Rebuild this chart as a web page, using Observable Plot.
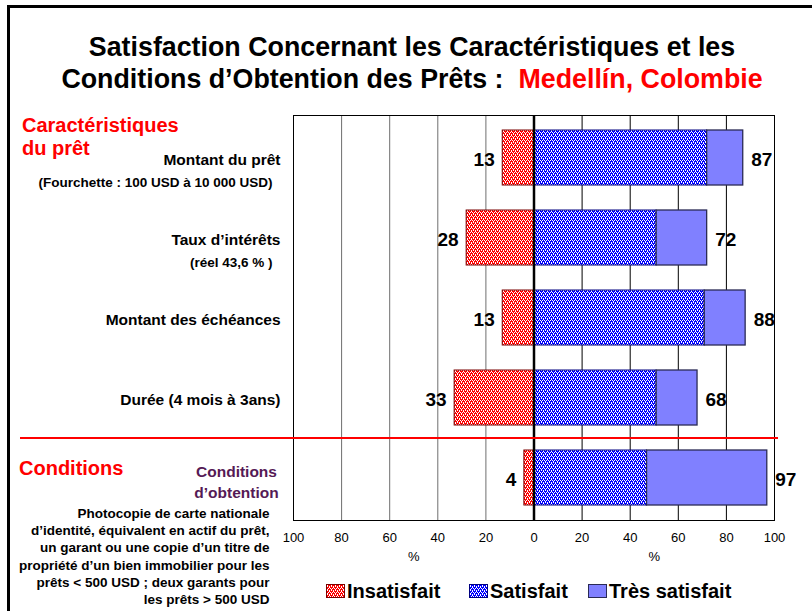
<!DOCTYPE html>
<html lang="fr">
<head>
<meta charset="utf-8">
<script src="https://cdn.jsdelivr.net/npm/d3@7"></script>
<script src="https://cdn.jsdelivr.net/npm/@observablehq/plot@0.6"></script>
<style>
  html, body { margin: 0; padding: 0; background: #fff; }
  #page { position: relative; width: 812px; height: 611px; overflow: hidden; font-family: "Liberation Sans", Arial, sans-serif; background: #fff; }
  .abs { position: absolute; white-space: nowrap; }
  #outer { position: absolute; left: 7px; top: 5px; width: 830px; height: 630px; border-left: 3px solid #000; border-top: 3px solid #000; }
  #title { position: absolute; left: 12px; top: 31px; width: 800px; text-align: center; font-size: 26.8px; font-weight: bold; line-height: 32px; color: #000; white-space: nowrap; }
  #title .red { color: #ff0000; }
  .section { font-size: 20px; font-weight: bold; color: #ff0000; line-height: 23px; }
  #sep { position: absolute; left: 20px; top: 437px; width: 758px; height: 2px; background: #ff0000; }
  .legtxt { font-size: 20px; font-weight: bold; line-height: 20px; }
  #chart { position: absolute; left: 0; top: 0; }
</style>
</head>
<body>
<svg width="0" height="0" style="position:absolute">
  <defs>
    <pattern id="pRed" width="4" height="4" patternUnits="userSpaceOnUse">
      <rect width="4" height="4" fill="#ff0000"/>
      <rect x="0" y="0" width="1" height="1" fill="#ffffff"/>
      <rect x="2" y="0" width="1" height="1" fill="#ffffff"/>
      <rect x="1" y="1" width="1" height="1" fill="#ffffff"/>
      <rect x="1" y="2" width="1" height="1" fill="#ffffff"/>
      <rect x="3" y="2" width="1" height="1" fill="#ffffff"/>
      <rect x="3" y="3" width="1" height="1" fill="#ffffff"/>
    </pattern>
    <pattern id="pBlue" width="4" height="4" patternUnits="userSpaceOnUse">
      <rect width="4" height="4" fill="#0000ff"/>
      <rect x="0" y="0" width="1" height="1" fill="#ffffff"/>
      <rect x="2" y="0" width="1" height="1" fill="#ffffff"/>
      <rect x="1" y="1" width="1" height="1" fill="#ffffff"/>
      <rect x="1" y="2" width="1" height="1" fill="#ffffff"/>
      <rect x="3" y="2" width="1" height="1" fill="#ffffff"/>
      <rect x="3" y="3" width="1" height="1" fill="#ffffff"/>
    </pattern>
  </defs>
</svg>
<div id="page">
  <div id="outer"></div>
  <div id="chart"></div>
  <div id="title">Satisfaction Concernant les Caractéristiques et les<br>Conditions d’Obtention des Prêts : &nbsp;<span class="red">Medellín, Colombie</span></div>
  <div class="abs section" style="left:22px; top:114px;">Caractéristiques<br>du prêt</div>
  <div class="abs section" style="left:19px; top:457px;">Conditions</div>
  <div id="sep"></div>
  <div id="legend"></div>
</div>
<script>
// ---- data ----
const categories = ["Montant du prêt", "Taux d’intérêts", "Montant des échéances", "Durée (4 mois à 3ans)", "Conditions\nd’obtention"];
const subLabels = ["(Fourchette : 100 USD à 10 000 USD)", "(réel 43,6 % )", "", "", ""];
const conditionsNote = "Photocopie de carte nationale\nd’identité, équivalent en actif du prêt,\nun garant ou une copie d’un titre de\npropriété d’un bien immobilier pour les\nprêts < 500 USD ; deux garants pour\nles prêts > 500 USD";
const insatisfait = [13, 28, 13, 33, 4];
const satisfait = [72, 51, 71, 51, 47];
const tresSatisfait = [15, 21, 17, 17, 50];
const xTicks = [-100, -80, -60, -40, -20, 0, 20, 40, 60, 80, 100];
const seriesNames = ["Insatisfait", "Satisfait", "Très satisfait"];
const seriesFills = ["url(#pRed)", "url(#pBlue)", "#8080ff"];
const seriesStrokes = ["#7a0000", "#000080", "#2a2a55"];

const rows = categories.map((c, i) => ({
  cat: c,
  sub: subLabels[i],
  ins: insatisfait[i],
  sat: satisfait[i],
  tres: tresSatisfait[i],
  total: satisfait[i] + tresSatisfait[i],
  isCond: i === categories.length - 1
}));

const chart = Plot.plot({
  width: 812,
  height: 611,
  marginTop: 115,
  marginBottom: 91,
  marginLeft: 293,
  marginRight: 38,
  style: { fontFamily: "Liberation Sans, Arial, sans-serif", fontSize: "13px", background: "transparent", overflow: "visible", color: "#000" },
  x: { domain: [-100, 100], ticks: xTicks, tickFormat: d => Math.abs(d), tickSize: 0, tickPadding: 12, label: null },
  y: { domain: categories, paddingInner: 0.31, paddingOuter: 0.16, axis: null },
  marks: [
    Plot.ruleX(xTicks.filter(d => d < 0), { stroke: "#6e6e6e", strokeWidth: 1 }),
    Plot.ruleX(xTicks.filter(d => d > 0), { stroke: "#000", strokeWidth: 1 }),
    Plot.barX(rows, { y: "cat", x1: d => -d.ins, x2: 0, fill: seriesFills[0], stroke: seriesStrokes[0], strokeWidth: 1 }),
    Plot.barX(rows, { y: "cat", x1: 0, x2: "sat", fill: seriesFills[1], stroke: seriesStrokes[1], strokeWidth: 1 }),
    Plot.barX(rows, { y: "cat", x1: "sat", x2: "total", fill: seriesFills[2], stroke: seriesStrokes[2], strokeWidth: 1.3 }),
    Plot.ruleX([0], { stroke: "#000", strokeWidth: 2.5 }),
    Plot.frame({ stroke: "#000", strokeWidth: 1 }),
    // value labels
    Plot.text(rows, { y: "cat", x: d => -d.ins, text: d => String(d.ins), textAnchor: "end", dx: -8, dy: 2, fontSize: 19, fontWeight: "bold", fill: "#000" }),
    Plot.text(rows, { y: "cat", x: "total", text: d => String(d.total), textAnchor: "start", dx: 8, dy: 2, fontSize: 19, fontWeight: "bold", fill: "#000" }),
    // category labels
    Plot.text(rows.filter(d => !d.isCond), { y: "cat", text: "cat", frameAnchor: "left", textAnchor: "end", dx: -13, dy: 2, fontSize: 15.5, fontWeight: "bold", fill: "#000" }),
    Plot.text(rows.filter(d => !d.isCond && d.sub), { y: "cat", text: "sub", frameAnchor: "left", textAnchor: "end", dx: -21, dy: 25, fontSize: 13.5, fontWeight: "bold", fill: "#000" }),
    Plot.text(rows.filter(d => d.isCond), { y: "cat", text: "cat", frameAnchor: "left", textAnchor: "middle", dx: -57, dy: 3, fontSize: 15.5, lineHeight: 1.3, fontWeight: "bold", fill: "#551a55" }),
    Plot.text(rows.filter(d => d.isCond), { y: "cat", text: () => conditionsNote, frameAnchor: "left", textAnchor: "end", lineAnchor: "top", dx: -24, dy: 28, fontSize: 13.5, lineHeight: 1.27, fontWeight: "bold", fill: "#000" }),
    // % labels under each half
    Plot.text([-50, 50], { x: d => d, text: () => "%", frameAnchor: "bottom", dy: 40, fontSize: 13, fill: "#000" })
  ]
});
document.getElementById("chart").appendChild(chart);

// ---- legend ----
const legend = document.getElementById("legend");
const swatchLeft = [326, 469, 588];
seriesNames.forEach((name, i) => {
  const sw = document.createElementNS("http://www.w3.org/2000/svg", "svg");
  sw.setAttribute("width", 19);
  sw.setAttribute("height", 14);
  sw.style.position = "absolute";
  sw.style.left = swatchLeft[i] + "px";
  sw.style.top = "584px";
  const r = document.createElementNS("http://www.w3.org/2000/svg", "rect");
  r.setAttribute("x", 0.5); r.setAttribute("y", 0.5);
  r.setAttribute("width", 18); r.setAttribute("height", 13);
  r.setAttribute("fill", seriesFills[i]);
  r.setAttribute("stroke", seriesStrokes[i]);
  sw.appendChild(r);
  legend.appendChild(sw);
  const t = document.createElement("div");
  t.className = "abs legtxt";
  t.style.left = (swatchLeft[i] + 21) + "px";
  t.style.top = "581px";
  t.textContent = name;
  legend.appendChild(t);
});
</script>
</body>
</html>
